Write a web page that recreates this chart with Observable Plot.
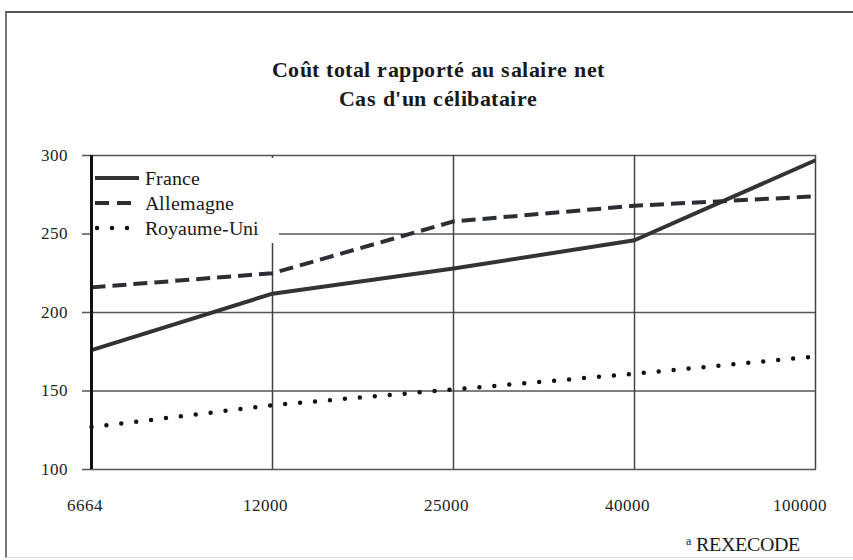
<!DOCTYPE html>
<html>
<head>
<meta charset="utf-8">
<script src="https://cdn.jsdelivr.net/npm/d3@7"></script>
<script src="https://cdn.jsdelivr.net/npm/@observablehq/plot@0.6"></script>
<style>
  @font-face { font-family: "SerifLocal"; src: local("Liberation Serif"), local("LiberationSerif"), local("Tinos"); font-weight: normal; }
  @font-face { font-family: "SerifLocal"; src: local("Liberation Serif Bold"), local("LiberationSerif-Bold"), local("Tinos Bold"); font-weight: bold; }
  html, body { margin: 0; padding: 0; background: #fff; }
  #wrap { position: relative; width: 853px; height: 560px; overflow: hidden; background: #fff;
          font-family: SerifLocal, Tinos, serif; color: #1a1a1a; }
  #frame { position: absolute; left: 5px; top: 11px; width: 900px; height: 544px;
           border-top: 2px solid #555; border-left: 2px solid #777; border-bottom: 1px solid #ddd; }
  #title { position: absolute; left: 0; top: 56px; width: 876px; text-align: center;
           font-weight: bold; font-size: 21.5px; letter-spacing: 0.5px; line-height: 29px; }
  #legend { position: absolute; left: 93px; top: 158px; width: 186px; height: 85px; background: #fff;
            font-size: 20px; }
  #legend .row { position: absolute; left: 2px; height: 24px; display: flex; align-items: center; }
  #legend svg { margin-right: 6px; }
  #source { position: absolute; left: 686px; top: 533px; font-size: 20px; line-height: 22px; }
  #source sup { font-size: 12px; vertical-align: 6px; line-height: 0; }
  #chart { position: absolute; left: 0; top: 0; }
</style>
</head>
<body>
<div id="wrap">
  <div id="frame"></div>
  <div id="chart"></div>
  <div id="title">Coût total rapporté au salaire net<br>Cas d'un célibataire</div>
  <div id="legend"></div>
  <div id="source"><sup>a</sup> REXECODE</div>
</div>
<script>
// Salaire net (catégories de l'axe horizontal)
const categories = ["6664", "12000", "25000", "40000", "100000"];
// Coût total rapporté au salaire net, par pays
const france = [176, 212, 228, 246, 297];
const allemagne = [216, 225, 258, 268, 274];
const royaumeUni = [127, 141, 151, 161, 172];
const yTicks = [100, 150, 200, 250, 300];

const seriesNames = ["France", "Allemagne", "Royaume-Uni"];
const seriesValues = [france, allemagne, royaumeUni];
const seriesStyle = {
  "France":      {stroke: "#333", strokeWidth: 4, strokeDasharray: null, strokeLinecap: "butt"},
  "Allemagne":   {stroke: "#2b2f33", strokeWidth: 4, strokeDasharray: "14,7", strokeLinecap: "butt"},
  "Royaume-Uni": {stroke: "#111", strokeWidth: 4.5, strokeDasharray: "0,15", strokeLinecap: "round"}
};

const serif = "SerifLocal, Tinos, serif";

const rows = seriesNames.flatMap((name, s) =>
  categories.map((c, i) => ({pays: name, salaire: c, valeur: seriesValues[s][i]})));

const lineMarks = seriesNames.map(name =>
  Plot.line(rows.filter(d => d.pays === name), {
    x: "salaire", y: "valeur",
    stroke: seriesStyle[name].stroke,
    strokeWidth: seriesStyle[name].strokeWidth,
    strokeDasharray: seriesStyle[name].strokeDasharray,
    strokeLinecap: seriesStyle[name].strokeLinecap
  }));

const chart = Plot.plot({
  width: 853,
  height: 560,
  marginLeft: 89,
  marginRight: 37,
  marginTop: 155,
  marginBottom: 91,
  style: {fontFamily: serif, background: "transparent"},
  x: {type: "point", domain: categories, padding: 0, label: null},
  y: {domain: [100, 300], ticks: yTicks, label: null},
  marks: [
    Plot.ruleY(yTicks, {stroke: "#555", strokeWidth: 1.5, insetLeft: -7}),
    Plot.ruleX(categories.slice(1), {y1: 100, y2: 300, stroke: "#444", strokeWidth: 1.5}),
    ...lineMarks,
    Plot.ruleX(categories.slice(0, 1), {y1: 100, y2: 300, stroke: "#111", strokeWidth: 3}),
    Plot.axisY(yTicks, {tickSize: 0, tickPadding: 22, fontSize: 16.5, fill: "#222", label: null}),
    Plot.axisX(categories.slice(0, 4), {tickSize: 0, tickPadding: 30, dx: -7, fontSize: 16.5, fill: "#222", label: null}),
    Plot.axisX(categories.slice(4), {tickSize: 0, tickPadding: 30, dx: -16, fontSize: 16.5, fill: "#222", label: null})
  ]
});
document.getElementById("chart").appendChild(chart);

// Légende
const legend = document.getElementById("legend");
seriesNames.forEach((name, i) => {
  const st = seriesStyle[name];
  const row = document.createElement("div");
  row.className = "row";
  row.style.top = (8 + i * 25) + "px";
  const ns = "http://www.w3.org/2000/svg";
  const sw = document.createElementNS(ns, "svg");
  sw.setAttribute("width", 44);
  sw.setAttribute("height", 10);
  const ln = document.createElementNS(ns, "line");
  ln.setAttribute("x1", name === "Royaume-Uni" ? 2 : 0);
  ln.setAttribute("x2", 44);
  ln.setAttribute("y1", 5);
  ln.setAttribute("y2", 5);
  ln.setAttribute("stroke", st.stroke);
  ln.setAttribute("stroke-width", st.strokeWidth);
  ln.setAttribute("stroke-linecap", st.strokeLinecap);
  if (st.strokeDasharray) ln.setAttribute("stroke-dasharray", name === "Allemagne" ? "14,8" : st.strokeDasharray);
  sw.appendChild(ln);
  row.appendChild(sw);
  const label = document.createElement("span");
  label.textContent = name;
  row.appendChild(label);
  legend.appendChild(row);
});
</script>
</body>
</html>
